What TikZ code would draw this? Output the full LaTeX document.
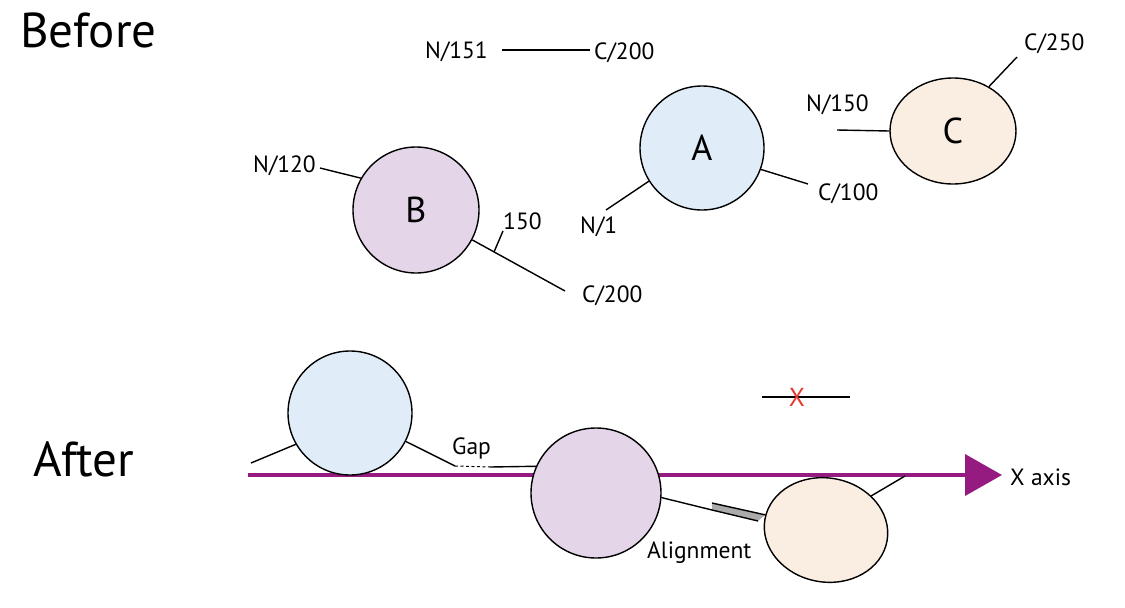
\documentclass[tikz,border=0pt]{standalone}
\usepackage{fontspec}
\setmainfont{PT Sans}
\usetikzlibrary{arrows.meta,shapes.geometric}
\definecolor{bluefill}{HTML}{E0ECF8}
\definecolor{purplefill}{HTML}{E5D5E8}
\definecolor{peachfill}{HTML}{FAEEE2}
\definecolor{axispurple}{HTML}{951B81}
\definecolor{xred}{HTML}{E8392F}
\definecolor{bargrey}{HTML}{ABABAB}
\tikzset{
  ball/.style={circle, draw=black, line width=1.4pt, inner sep=0pt, font=\fontsize{36}{40}\selectfont},
  egg/.style={ellipse, draw=black, line width=1.4pt, inner sep=0pt, font=\fontsize{36}{40}\selectfont},
  conn/.style={draw=black, line width=1.4pt},
  lbl/.style={inner sep=0pt, anchor=base west, font=\fontsize{23.5}{27}\selectfont},
  big/.style={inner sep=0pt, anchor=base west, font=\fontsize{49}{55}\selectfont},
  axisline/.style={draw=axispurple, line width=4pt, -{Triangle[length=37pt,width=41pt]}}
}
\begin{document}
\begin{tikzpicture}[x=1pt,y=-1pt]
\useasboundingbox (0,0) rectangle (1125,608);
% ---------- Before ----------
\node[big] (before) at (20,47) {Before};
\node[big] (after) at (33,476) {After};

% free peptide N/151 -- C/200
\node[lbl] (n151) at (425,58) {N/151};
\node[lbl] (c200t) at (594,59) {C/200};
\coordinate (p1) at (502,50);
\coordinate (p2) at (590,50);
\draw[conn] (p1) -- (p2);

% A
\node[ball, fill=bluefill, minimum size=124pt] (A) at (702,148) {A};
\coordinate (aN) at (606,210);
\coordinate (aC) at (808,184);
\draw[conn] (A.212) -- (aN);
\draw[conn] (A.-20) -- (aC);
\node[lbl] (n1) at (580,233) {N/1};
\node[lbl] (c100) at (818,200) {C/100};

% C
\node[egg, fill=peachfill, minimum width=126pt, minimum height=106pt] (C) at (953,131) {C};
\coordinate (cN) at (837,130);
\coordinate (cC) at (1017,57);
\draw[conn] (C.180) -- (cN);
\draw[conn] (C.51) -- (cC);
\node[lbl] (n150) at (806,111) {N/150};
\node[lbl] (c250) at (1024,50) {C/250};

% B
\node[ball, fill=purplefill, minimum size=126pt] (B) at (416,210) {B};
\coordinate (bN) at (320,168);
\coordinate (bC) at (565,291);
\draw[conn] (B.150) -- (bN);
\draw[conn] (B.-28) -- (bC);
\coordinate (t1) at (494,252);
\coordinate (t2) at (503,231);
\draw[conn] (t1) -- (t2);
\node[lbl] (n120) at (253,172) {N/120};
\node[lbl] (l150) at (503,229) {150};
\node[lbl] (c200b) at (582,302) {C/200};

% ---------- After ----------
\coordinate (axL) at (248,475);
\coordinate (axR) at (1002,475);
\draw[axisline] (axL) -- (axR);
\node[lbl] (xaxis) at (1010,485) {X axis};

% blue
\node[ball, fill=bluefill, minimum size=124pt] (a2) at (350,413) {};
\coordinate (a2L) at (251,463);
\coordinate (a2R) at (455,466);
\coordinate (gapE) at (490,467);
\draw[conn] (a2.210) -- (a2L);
\draw[conn] (a2.-27) -- (a2R);
\draw[conn, line width=1pt, dash pattern=on 3pt off 2.5pt] (a2R) -- (gapE);
\node[lbl] (gap) at (452,454) {Gap};

% purple
\node[ball, fill=purplefill, minimum size=130pt] (b2) at (596,493) {};
\draw[conn] (gapE) -- (b2.156);

% peach
\node[egg, fill=peachfill, minimum width=124pt, minimum height=104pt, rotate=-10] (c2) at (826,530) {};
% alignment bar
\coordinate (tl) at (712,503);
\coordinate (br) at (758,521);
\coordinate (bl) at (712,510);
\fill[bargrey] (tl) -- (c2.176) -- (br) -- (bl) -- cycle;
\draw[conn] (b2.-4) -- (bl) -- (br);
\draw[conn] (tl) -- (c2.176);
\coordinate (c2T) at (905,476);
\draw[conn] (c2.47) -- (c2T);
\node[lbl] (align) at (647,558) {Alignment};

% removed peptide
\coordinate (x1) at (762,397);
\coordinate (x2) at (850,397);
\draw[conn] (x1) -- (x2);
\node[inner sep=0pt, text=xred, font=\fontsize{26}{30}\selectfont] (xmark) at (797,397) {X};
\end{tikzpicture}
\end{document}
